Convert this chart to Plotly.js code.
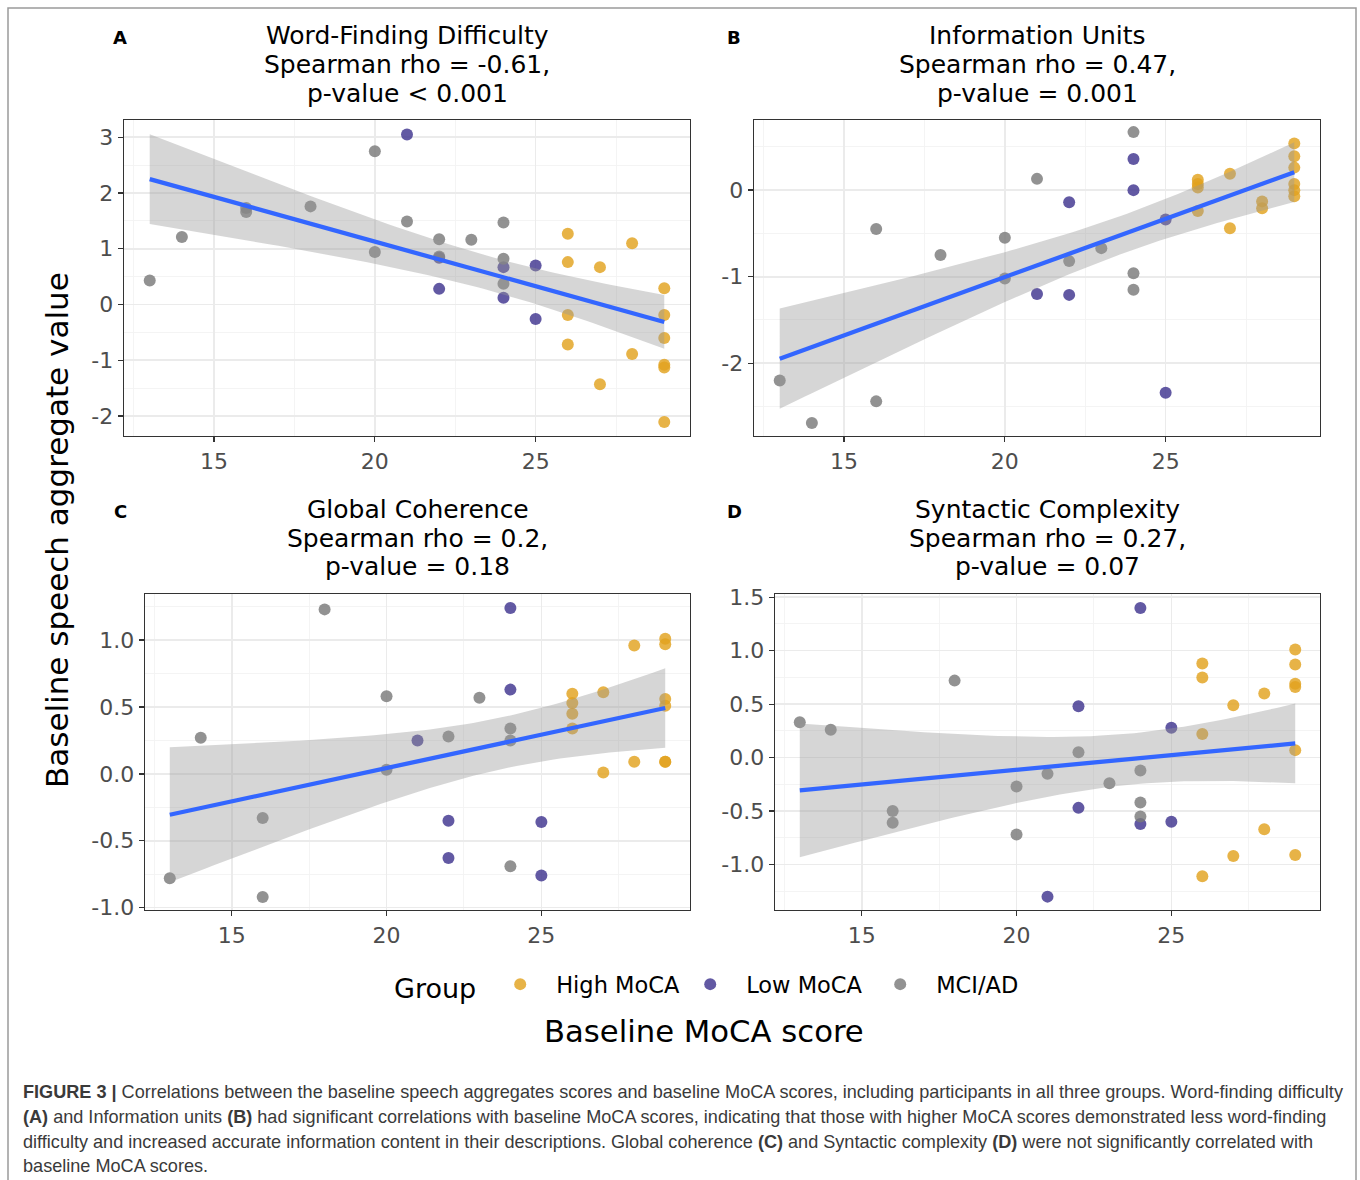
<!DOCTYPE html>
<html><head><meta charset="utf-8">
<script src="https://cdn.plot.ly/plotly-3.0.1.min.js"></script>
<style>body{margin:0;background:#fff}#chart{width:1360px;height:1180px}</style>
</head><body><div id="chart"></div>
<script>
// ---------- data ----------
const groups = ['High MoCA', 'Low MoCA', 'MCI/AD'];
const groupColors = ['#E2A21E', '#40358F', '#7A7A7A'];

// Panel A: Word-Finding Difficulty
const aHighX = [26,26,26,26,27,27,28,28,29,29,29,29,29,29];
const aHighY = [1.27,0.76,-0.19,-0.72,0.67,-1.43,1.10,-0.89,0.29,-0.19,-0.60,-1.08,-1.13,-2.11];
const aLowX  = [21,22,22,24,24,25,25];
const aLowY  = [3.05,0.84,0.28,0.67,0.12,0.70,-0.26];
const aMciX  = [13,14,16,16,18,20,20,21,22,22,23,24,24,24];
const aMciY  = [0.43,1.21,1.73,1.66,1.76,2.75,0.94,1.49,1.17,0.86,1.16,1.47,0.82,0.37];

// Panel B: Information Units
const bHighX = [26,26,26,26,27,27,28,28,29,29,29,29,29,29];
const bHighY = [0.12,0.07,0.03,-0.24,0.19,-0.44,-0.13,-0.21,0.54,0.39,0.26,0.07,0.00,-0.07];
const bLowX  = [21,22,22,24,24,25,25];
const bLowY  = [-1.20,-0.14,-1.21,0.36,0.00,-0.34,-2.34];
const bMciX  = [13,14,16,16,18,20,20,21,22,23,24,24,24];
const bMciY  = [-2.20,-2.69,-0.45,-2.44,-0.75,-0.55,-1.02,0.13,-0.82,-0.67,0.67,-0.96,-1.15];

// Panel C: Global Coherence
const cHighX = [26,26,26,26,27,27,28,28,29,29,29,29,29,29];
const cHighY = [0.60,0.53,0.45,0.34,0.61,0.01,0.96,0.09,1.01,0.97,0.56,0.51,0.09,0.09];
const cLowX  = [21,22,22,24,24,25,25];
const cLowY  = [0.25,-0.35,-0.63,1.24,0.63,-0.36,-0.76];
const cMciX  = [13,14,16,16,18,20,20,22,23,24,24,24];
const cMciY  = [-0.78,0.27,-0.33,-0.92,1.23,0.58,0.03,0.28,0.57,0.34,0.25,-0.69];

// Panel D: Syntactic Complexity
const dHighX = [26,26,26,26,27,27,28,28,29,29,29,29,29,29];
const dHighY = [0.88,0.75,0.22,-1.11,0.49,-0.92,0.60,-0.67,1.01,0.87,0.69,0.66,0.07,-0.91];
const dLowX  = [21,22,22,24,24,25,25];
const dLowY  = [-1.30,0.48,-0.47,1.40,-0.62,0.28,-0.60];
const dMciX  = [13,14,16,16,18,20,20,21,22,23,24,24,24];
const dMciY  = [0.33,0.26,-0.50,-0.61,0.72,-0.27,-0.72,-0.15,0.05,-0.24,-0.12,-0.42,-0.55];

const panelLetters = ['A', 'B', 'C', 'D'];
const panelTitles = [
  ['Word-Finding Difficulty', 'Spearman rho = -0.61,', 'p-value < 0.001'],
  ['Information Units', 'Spearman rho = 0.47,', 'p-value = 0.001'],
  ['Global Coherence', 'Spearman rho = 0.2,', 'p-value = 0.18'],
  ['Syntactic Complexity', 'Spearman rho = 0.27,', 'p-value = 0.07']
];
const xTickVals = [15, 20, 25];
const xTickText = ['15', '20', '25'];
const yTickValsAB = [[-2,-1,0,1,2,3], [-2,-1,0]];
const yTickTextAB = [['-2','-1','0','1','2','3'], ['-2','-1','0']];
const yTickValsCD = [[-1.0,-0.5,0.0,0.5,1.0], [-1.0,-0.5,0.0,0.5,1.0,1.5]];
const yTickTextCD = [['-1.0','-0.5','0.0','0.5','1.0'], ['-1.0','-0.5','0.0','0.5','1.0','1.5']];

const yTitle = 'Baseline speech aggregate value';
const xTitle = 'Baseline MoCA score';
const legendTitle = 'Group';
const captionLines = [
  '<b>FIGURE 3 |</b> Correlations between the baseline speech aggregates scores and baseline MoCA scores, including participants in all three groups. Word-finding difficulty',
  '<b>(A)</b> and Information units <b>(B)</b> had significant correlations with baseline MoCA scores, indicating that those with higher MoCA scores demonstrated less word-finding',
  'difficulty and increased accurate information content in their descriptions. Global coherence <b>(C)</b> and Syntactic complexity <b>(D)</b> were not significantly correlated with',
  'baseline MoCA scores.'
];

// ---------- layout geometry (pixels) ----------
const W = 1360, H = 1180;
const px = v => v / W;
const py = v => 1 - v / H;
const panels = [
  {xs:[aHighX,aLowX,aMciX], ys:[aHighY,aLowY,aMciY], dom:[124,690,120,436], yr:[-2.36,3.31], tv:yTickValsAB[0], tt:yTickTextAB[0], minor:0.5, titleY:[35,64,93], letter:[120,37]},
  {xs:[bHighX,bLowX,bMciX], ys:[bHighY,bLowY,bMciY], dom:[754,1320,120,436], yr:[-2.84,0.81], tv:yTickValsAB[1], tt:yTickTextAB[1], minor:0.5, titleY:[35,64,93], letter:[734,37]},
  {xs:[cHighX,cLowX,cMciX], ys:[cHighY,cLowY,cMciY], dom:[145,690,594,910], yr:[-1.018,1.345], tv:yTickValsCD[0], tt:yTickTextCD[0], minor:0.25, titleY:[509,538,567], letter:[120,511]},
  {xs:[dHighX,dLowX,dMciX], ys:[dHighY,dLowY,dMciY], dom:[775,1320,594,910], yr:[-1.425,1.53], tv:yTickValsCD[1], tt:yTickTextCD[1], minor:0.25, titleY:[509,538,567], letter:[734,511]}
];

// ---------- linear fit with 95% CI ----------
function tQuant(df) {
  const z = 1.959964;
  return z + (z**3 + z) / (4*df) + (5*z**5 + 16*z**3 + 3*z) / (96*df*df) + (3*z**7 + 19*z**5 + 17*z**3 - 15*z) / (384*df**3);
}
function lmBand(xs, ys) {
  const n = xs.length;
  const mx = xs.reduce((s,v)=>s+v,0)/n, my = ys.reduce((s,v)=>s+v,0)/n;
  let sxx = 0, sxy = 0;
  for (let i=0;i<n;i++){ sxx += (xs[i]-mx)**2; sxy += (xs[i]-mx)*(ys[i]-my); }
  const b = sxy/sxx, a = my - b*mx;
  let sse = 0;
  for (let i=0;i<n;i++){ sse += (ys[i]-a-b*xs[i])**2; }
  const s2 = sse/(n-2), t = tQuant(n-2);
  const lo = Math.min(...xs), hi = Math.max(...xs);
  const gx = [], fit = [], up = [], dn = [];
  for (let k=0;k<=80;k++){
    const x = lo + (hi-lo)*k/80;
    const f = a + b*x;
    const se = Math.sqrt(s2*(1/n + (x-mx)**2/sxx));
    gx.push(x); fit.push(f); up.push(f + t*se); dn.push(f - t*se);
  }
  return {gx, fit, up, dn};
}

// ---------- traces ----------
const traces = [];
const layout = {
  width: W, height: H,
  margin: {l:0, r:0, t:0, b:0},
  paper_bgcolor: '#ffffff', plot_bgcolor: '#ffffff',
  font: {family: 'DejaVu Sans', color: '#000000'},
  showlegend: true,
  legend: {
    orientation: 'h', x: px(392), xanchor: 'left', y: py(986), yanchor: 'middle',
    title: {text: legendTitle, font: {size: 27, color: '#000'}, side: 'left'},
    font: {size: 22.5, color: '#000'}, itemsizing: 'constant', itemwidth: 62,
    entrywidth: 113, entrywidthmode: 'pixels', bgcolor: 'rgba(0,0,0,0)'
  },
  annotations: [], shapes: []
};

panels.forEach((p, i) => {
  const sfx = i === 0 ? '' : String(i+1);
  const xa = 'x' + sfx, ya = 'y' + sfx;
  const allX = [].concat(...p.xs), allY = [].concat(...p.ys);
  for (let g=0; g<3; g++) {
    traces.push({
      type: 'scatter', mode: 'markers', x: p.xs[g], y: p.ys[g], xaxis: xa, yaxis: ya,
      name: groups[g], legendgroup: groups[g], showlegend: i === 0,
      marker: {color: groupColors[g], size: 12, opacity: 0.82, line: {width: 0}},
      hoverinfo: 'x+y'
    });
  }
  const fitRes = lmBand(allX, allY);
  traces.push({
    type: 'scatter', mode: 'lines', x: fitRes.gx.concat(fitRes.gx.slice().reverse()),
    y: fitRes.up.concat(fitRes.dn.slice().reverse()), xaxis: xa, yaxis: ya,
    fill: 'toself', fillcolor: 'rgba(153,153,153,0.4)', line: {width: 0}, showlegend: false, hoverinfo: 'skip'
  });
  traces.push({
    type: 'scatter', mode: 'lines', x: fitRes.gx, y: fitRes.fit, xaxis: xa, yaxis: ya,
    line: {color: '#3366FF', width: 4.3}, showlegend: false, hoverinfo: 'skip'
  });

  const axCommon = {
    showline: true, mirror: true, linecolor: '#333333', linewidth: 1.3,
    ticks: 'outside', ticklen: 5, tickcolor: '#333333', tickwidth: 1.3,
    gridcolor: '#EBEBEB', gridwidth: 1.6, zeroline: false,
    tickfont: {size: 22, color: '#4D4D4D'}
  };
  layout['xaxis' + sfx] = Object.assign({}, axCommon, {
    domain: [px(p.dom[0]), px(p.dom[1])], range: [12.2, 29.8], anchor: ya,
    tickmode: 'array', tickvals: xTickVals, ticktext: xTickText,
    minor: {tickmode: 'array', tickvals: [12.5, 17.5, 22.5, 27.5], showgrid: true, gridcolor: '#F3F3F3', gridwidth: 0.9, ticks: ''}
  });
  const minorVals = [];
  for (let v = Math.ceil(p.yr[0]/p.minor)*p.minor; v <= p.yr[1]; v += p.minor) {
    if (!p.tv.some(t => Math.abs(t - v) < 1e-6)) minorVals.push(+v.toFixed(3));
  }
  layout['yaxis' + sfx] = Object.assign({}, axCommon, {
    domain: [py(p.dom[3]), py(p.dom[2])], range: p.yr, anchor: xa,
    tickmode: 'array', tickvals: p.tv, ticktext: p.tt,
    minor: {tickmode: 'array', tickvals: minorVals, showgrid: true, gridcolor: '#F3F3F3', gridwidth: 0.9, ticks: ''}
  });

  const cx = (p.dom[0] + p.dom[1]) / 2;
  panelTitles[i].forEach((line, k) => {
    layout.annotations.push({
      xref: 'paper', yref: 'paper', x: px(cx), y: py(p.titleY[k]), xanchor: 'center', yanchor: 'middle',
      text: line, showarrow: false, font: {size: 25, color: '#000'}
    });
  });
  layout.annotations.push({
    xref: 'paper', yref: 'paper', x: px(p.letter[0]), y: py(p.letter[1]), xanchor: 'center', yanchor: 'middle',
    text: '<b>' + panelLetters[i] + '</b>', showarrow: false, font: {size: 18, color: '#000'}
  });
});

layout.annotations.push({
  xref: 'paper', yref: 'paper', x: px(57), y: py(530), xanchor: 'center', yanchor: 'middle',
  text: yTitle, textangle: -90, showarrow: false, font: {size: 31, color: '#000'}
});
layout.annotations.push({
  xref: 'paper', yref: 'paper', x: px(704), y: py(1031), xanchor: 'center', yanchor: 'middle',
  text: xTitle, showarrow: false, font: {size: 30.7, color: '#000'}
});
const capY = [1092, 1117, 1142, 1166];
captionLines.forEach((line, k) => {
  layout.annotations.push({
    xref: 'paper', yref: 'paper', x: px(21), y: py(capY[k]), xanchor: 'left', yanchor: 'middle',
    text: line, showarrow: false, font: {family: 'Liberation Sans', size: 18.1, color: '#3A3A3A'}
  });
});
layout.shapes.push({
  type: 'rect', xref: 'paper', yref: 'paper', x0: px(8), x1: px(1356), y0: -0.05, y1: py(8),
  line: {color: '#9A9A9A', width: 1.5}, fillcolor: 'rgba(0,0,0,0)', layer: 'below'
});

Plotly.newPlot('chart', traces, layout, {staticPlot: true, displayModeBar: false});
</script>
</body></html>
